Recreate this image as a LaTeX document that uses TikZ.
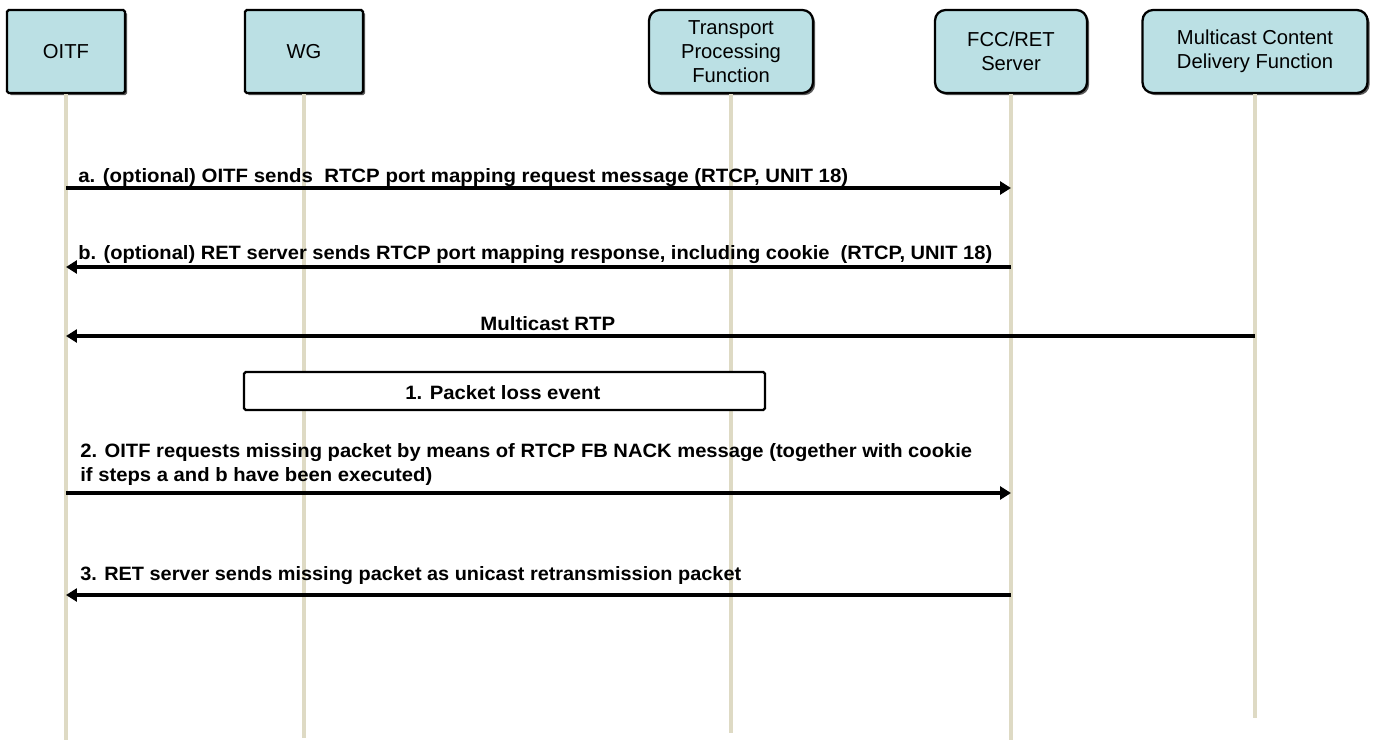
\documentclass[tikz,border=0pt]{standalone}
\usepackage{fontspec}
\setmainfont{Liberation Sans}
\usetikzlibrary{arrows.meta,shadows}
\definecolor{boxfill}{RGB}{187,224,228}
\definecolor{lifecol}{RGB}{222,218,196}
\tikzset{
  ent/.style={draw=black, line width=1.3pt, fill=boxfill, align=center,
    minimum height=1.66cm, inner sep=0pt,
    font=\fontsize{11.5}{13.5}\selectfont,
    drop shadow={shadow xshift=1.2pt, shadow yshift=-1.2pt, fill=black!65, opacity=1}},
  entsq/.style={ent, rounded corners=1pt},
  entrd/.style={ent, rounded corners=6pt},
  life/.style={draw=lifecol, line width=2.4pt},
  msgarrow/.style={draw=black, line width=2.8pt, -{Triangle[length=0.22cm,width=0.26cm]}},
  msgtext/.style={inner sep=0pt, font=\fontsize{11}{13.1}\selectfont\bfseries, align=left},
  eventbox/.style={draw=black, line width=1.3pt, fill=white, rounded corners=1pt},
}
\begin{document}
\begin{tikzpicture}[x=0.02cm, y=-0.02cm]
\useasboundingbox (0,0) rectangle (1379,740);
% entities
\node[entsq, minimum width=2.36cm] (oitf) at (66,51.5) {OITF};
\node[entsq, minimum width=2.36cm] (wg) at (304,51.5) {WG};
\node[entrd, minimum width=3.28cm] (tpf) at (731,51.5) {Transport\\Processing\\Function};
\node[entrd, minimum width=3.04cm] (fcc) at (1011,51.5) {FCC/RET\\Server};
\node[entrd, minimum width=4.5cm] (mcdf) at (1255,51.5) {Multicast Content\\Delivery Function};
% lifeline ends
\coordinate (oitf-end) at (66,740);
\coordinate (wg-end) at (304,738);
\coordinate (tpf-end) at (731,733);
\coordinate (fcc-end) at (1011,740);
\coordinate (mcdf-end) at (1255,718);
\draw[life] (oitf.south) -- (oitf-end);
\draw[life] (wg.south) -- (wg-end);
\draw[life] (tpf.south) -- (tpf-end);
\draw[life] (fcc.south) -- (fcc-end);
\draw[life] (mcdf.south) -- (mcdf-end);
% message rows
\coordinate (ya) at (0,188);
\coordinate (yb) at (0,267);
\coordinate (yr) at (0,336);
\coordinate (y2) at (0,493);
\coordinate (y3) at (0,595);
% a
\draw[msgarrow] (oitf |- ya) -- (fcc |- ya);
\node[msgtext, anchor=base west] (la) at (78,182)
  {\resizebox{15.4cm}{\height}{a. (optional) OITF sends\ \ RTCP port mapping request message (RTCP, UNIT 18)}};
% b
\draw[msgarrow] (fcc |- yb) -- (oitf |- yb);
\node[msgtext, anchor=base west] (lb) at (78,259)
  {\resizebox{18.28cm}{\height}{b. (optional) RET server sends RTCP port mapping response, including cookie\ \ (RTCP, UNIT 18)}};
% multicast RTP
\draw[msgarrow] (mcdf |- yr) -- (oitf |- yr);
\node[msgtext, anchor=base west] (lr) at (480,330)
  {\resizebox{2.7cm}{\height}{Multicast RTP}};
% packet loss event
\node[eventbox, minimum width=10.42cm, minimum height=0.76cm] (loss) at (504.5,391) {};
\node[msgtext, anchor=base west] (lloss) at (405,399)
  {\resizebox{3.9cm}{\height}{1. Packet loss event}};
% 2
\draw[msgarrow] (oitf |- y2) -- (fcc |- y2);
\node[msgtext, anchor=base west] (l2) at (80,481)
  {\resizebox{17.84cm}{\height}{2. OITF requests missing packet by means of RTCP FB NACK message (together with cookie}\\
   \resizebox{7.04cm}{\height}{if steps a and b have been executed)}};
% 3
\draw[msgarrow] (fcc |- y3) -- (oitf |- y3);
\node[msgtext, anchor=base west] (l3) at (80,580)
  {\resizebox{13.22cm}{\height}{3. RET server sends missing packet as unicast retransmission packet}};
\end{tikzpicture}
\end{document}
